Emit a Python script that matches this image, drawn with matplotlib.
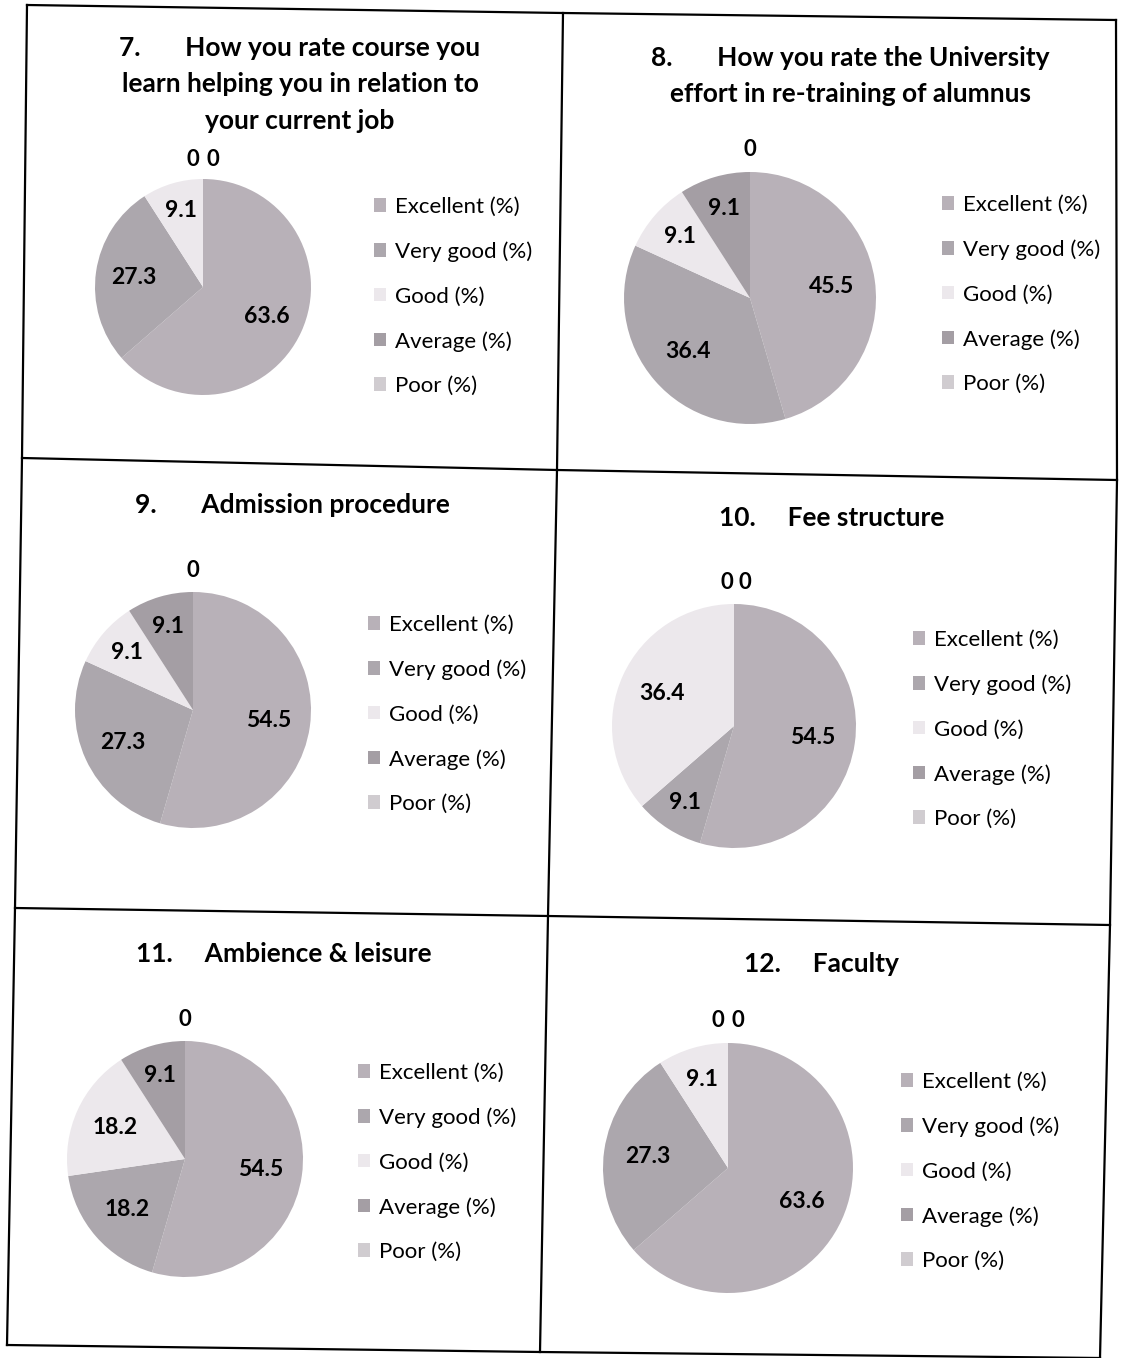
import numpy as np
import matplotlib
matplotlib.use("Agg")
import matplotlib.pyplot as plt
from matplotlib.lines import Line2D

# survey results, order: Excellent, Very good, Good, Average, Poor
categories = ["Excellent (%)", "Very good (%)", "Good (%)", "Average (%)", "Poor (%)"]

q7_values = [63.6, 27.3, 9.1, 0, 0]
q8_values = [45.5, 36.4, 9.1, 9.1, 0]
q9_values = [54.5, 27.3, 9.1, 9.1, 0]
q10_values = [54.5, 9.1, 36.4, 0, 0]
q11_values = [54.5, 18.2, 18.2, 9.1, 0]
q12_values = [63.6, 27.3, 9.1, 0, 0]

q7_title = "7.       How you rate course you\nlearn helping you in relation to\nyour current job"
q8_title = "8.       How you rate the University\neffort in re-training of alumnus"
q9_title = "9.       Admission procedure"
q10_title = "10.     Fee structure"
q11_title = "11.     Ambience & leisure"
q12_title = "12.     Faculty"

colors = ["#b8b1b8", "#aca7ad", "#ece8ec", "#a49ea4", "#d0ccd0"]

W, H = 1125, 1358
plt.rcParams["font.family"] = ["Lato", "DejaVu Sans"]

fig = plt.figure(figsize=(W / 100, H / 100), dpi=100)


def fx(x):
    return x / W


def fy(y):
    return 1 - y / H


# scanned table frame
frame = [
    [(27, 5), (563, 13), (1116, 20)],
    [(22, 458), (557, 470), (1117, 480)],
    [(15, 908), (548, 916), (1110, 925)],
    [(7, 1345), (540, 1352), (1100, 1358)],
    [(27, 5), (22, 458), (15, 908), (7, 1345)],
    [(563, 13), (557, 470), (548, 916), (540, 1352)],
    [(1116, 20), (1117, 480), (1110, 925), (1100, 1358)],
]
for seg in frame:
    xs = [fx(p[0]) for p in seg]
    ys = [fy(p[1]) for p in seg]
    fig.add_artist(Line2D(xs, ys, color="black", lw=1.6, transform=fig.transFigure))


def draw_pie(values, title, title_xy, center, r, legend_xy, zero_dx):
    cx, cy = center
    ax = fig.add_axes([fx(cx - r), fy(cy + r), 2 * r / W, 2 * r / H])
    wedges, _ = ax.pie(values, colors=colors, startangle=90, counterclock=False,
                       radius=1, wedgeprops=dict(linewidth=0))
    ax.set_xlim(-1, 1)
    ax.set_ylim(-1, 1)
    ax.axis("off")

    # data labels
    zi = 0
    for w, v in zip(wedges, values):
        if v == 0:
            ax.text(zero_dx[zi], 1.18, "0", ha="center", va="center",
                    fontsize=16, fontweight="bold", clip_on=False)
            zi += 1
            continue
        ang = np.deg2rad((w.theta1 + w.theta2) / 2)
        d = 0.65 if v > 15 else 0.74
        ax.text(d * np.cos(ang), d * np.sin(ang), f"{v:g}", ha="center", va="center",
                fontsize=16.5, fontweight="bold")

    fig.text(fx(title_xy[0]), fy(title_xy[1]), title, ha="center", va="top",
             fontsize=19, fontweight="bold", linespacing=1.62)

    fig.legend(wedges, categories, loc="upper left",
               bbox_to_anchor=(fx(legend_xy[0]), fy(legend_xy[1])),
               bbox_transform=fig.transFigure, frameon=False, fontsize=16,
               handlelength=0.55, handleheight=0.55, handletextpad=0.4,
               labelspacing=1.1, borderaxespad=0, borderpad=0)


draw_pie(q7_values, q7_title, (300, 36), (203, 287), 108, (374, 197), [-0.09, 0.09])
draw_pie(q8_values, q8_title, (850, 46), (750, 298), 126, (942, 195), [0.0])
draw_pie(q9_values, q9_title, (292, 493), (193, 710), 118, (368, 615), [0.0])
draw_pie(q10_values, q10_title, (832, 506), (734, 726), 122, (913, 630), [-0.06, 0.09])
draw_pie(q11_values, q11_title, (284, 942), (185, 1159), 118, (358, 1063), [0.0])
draw_pie(q12_values, q12_title, (821, 952), (728, 1168), 125, (901, 1072), [-0.08, 0.08])

fig.savefig("out.png", dpi=100, facecolor="white")
